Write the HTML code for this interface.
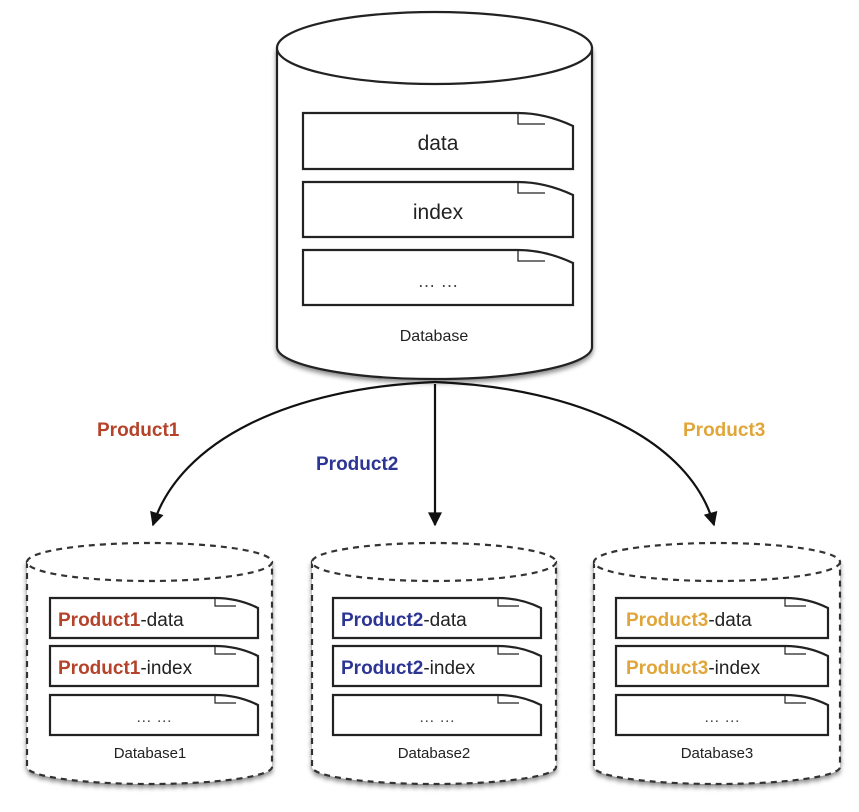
<!DOCTYPE html>
<html><head><meta charset="utf-8"><style>
html,body{margin:0;padding:0;background:#fff;}
svg{display:block;}
text{font-family:"Liberation Sans",Arial,sans-serif;}
</style></head><body>
<svg width="859" height="812" viewBox="0 0 859 812" xmlns="http://www.w3.org/2000/svg">
<defs>
<marker id="ah" viewBox="0 0 10 10" refX="9" refY="5" markerWidth="16" markerHeight="14" orient="auto" markerUnits="userSpaceOnUse">
<path d="M0,0 L10,5 L0,10 Z" fill="#111"/></marker>
<filter id="sh" x="-10%" y="-10%" width="120%" height="130%"><feDropShadow dx="0" dy="3" stdDeviation="2.5" flood-color="#000" flood-opacity="0.45"/></filter>
</defs>

<g stroke="#222" stroke-width="2.2" fill="#fff">
<path filter="url(#sh)" d="M277,48 V347 A157.5,32 0 0 0 592,347 V48 Z"/>
<ellipse cx="434.5" cy="48" rx="157.5" ry="36"/>
</g>
<g stroke="#222" stroke-width="2.2" fill="#fff">
<path d="M303,113 H518 Q545,113 573,126 V169 H303 Z"/>
<path d="M518,113 V124 H545" fill="none" stroke-width="1.3"/>
<path d="M303,182 H518 Q545,182 573,195 V237 H303 Z"/>
<path d="M518,182 V193 H545" fill="none" stroke-width="1.3"/>
<path d="M303,250 H518 Q545,250 573,263 V305 H303 Z"/>
<path d="M518,250 V261 H545" fill="none" stroke-width="1.3"/>
</g>
<text x="438" y="150" font-size="21" text-anchor="middle" fill="#222">data</text>
<text x="438" y="219" font-size="21" text-anchor="middle" fill="#222">index</text>
<text x="438" y="287" font-size="18" text-anchor="middle" fill="#444">… …</text>
<text x="434" y="341" font-size="16" text-anchor="middle" fill="#222">Database</text>

<g stroke="#111" stroke-width="2.2" fill="none" marker-end="url(#ah)">
<path d="M435,382 C290,388 180,440 153,525"/>
<path d="M435,384 V525"/>
<path d="M435,382 C580,388 690,440 714,525"/>
</g>
<text x="97" y="436" font-size="19" font-weight="bold" fill="#b5432b">Product1</text>
<text x="316" y="470" font-size="19" font-weight="bold" fill="#2c3594">Product2</text>
<text x="683" y="436" font-size="19" font-weight="bold" fill="#e0a63a">Product3</text>

<g>
<path filter="url(#sh)" d="M27,562 V767 A122.5,17 0 0 0 272,767 V562 Z" fill="#fff" stroke="#333" stroke-width="2.2" stroke-dasharray="6,5"/>
<ellipse cx="149.5" cy="562" rx="122.5" ry="19" fill="#fff" stroke="#333" stroke-width="2.2" stroke-dasharray="6,5"/>
</g>
<g>
<path filter="url(#sh)" d="M312,562 V767 A122,17 0 0 0 556,767 V562 Z" fill="#fff" stroke="#333" stroke-width="2.2" stroke-dasharray="6,5"/>
<ellipse cx="434" cy="562" rx="122" ry="19" fill="#fff" stroke="#333" stroke-width="2.2" stroke-dasharray="6,5"/>
</g>
<g>
<path filter="url(#sh)" d="M594,562 V767 A123,17 0 0 0 840,767 V562 Z" fill="#fff" stroke="#333" stroke-width="2.2" stroke-dasharray="6,5"/>
<ellipse cx="717" cy="562" rx="123" ry="19" fill="#fff" stroke="#333" stroke-width="2.2" stroke-dasharray="6,5"/>
</g>

<g stroke="#222" stroke-width="2.2" fill="#fff">
<path d="M50,598 H215 Q238,598 258,608 V638 H50 Z"/><path d="M215,598 V606 H236" fill="none" stroke-width="1.2"/>
<path d="M50,646 H215 Q238,646 258,656 V686 H50 Z"/><path d="M215,646 V654 H236" fill="none" stroke-width="1.2"/>
<path d="M50,695 H215 Q238,695 258,705 V735 H50 Z"/><path d="M215,695 V703 H236" fill="none" stroke-width="1.2"/>
<path d="M333,598 H498 Q521,598 541,608 V638 H333 Z"/><path d="M498,598 V606 H519" fill="none" stroke-width="1.2"/>
<path d="M333,646 H498 Q521,646 541,656 V686 H333 Z"/><path d="M498,646 V654 H519" fill="none" stroke-width="1.2"/>
<path d="M333,695 H498 Q521,695 541,705 V735 H333 Z"/><path d="M498,695 V703 H519" fill="none" stroke-width="1.2"/>
<path d="M616,598 H785 Q808,598 828,608 V638 H616 Z"/><path d="M785,598 V606 H806" fill="none" stroke-width="1.2"/>
<path d="M616,646 H785 Q808,646 828,656 V686 H616 Z"/><path d="M785,646 V654 H806" fill="none" stroke-width="1.2"/>
<path d="M616,695 H785 Q808,695 828,705 V735 H616 Z"/><path d="M785,695 V703 H806" fill="none" stroke-width="1.2"/>
</g>

<g font-size="19" fill="#222">
<text x="58" y="626"><tspan fill="#b5432b" font-weight="bold">Product1</tspan>-data</text>
<text x="58" y="674"><tspan fill="#b5432b" font-weight="bold">Product1</tspan>-index</text>
<text x="341" y="626"><tspan fill="#2c3594" font-weight="bold">Product2</tspan>-data</text>
<text x="341" y="674"><tspan fill="#2c3594" font-weight="bold">Product2</tspan>-index</text>
<text x="626" y="626"><tspan fill="#e0a63a" font-weight="bold">Product3</tspan>-data</text>
<text x="626" y="674"><tspan fill="#e0a63a" font-weight="bold">Product3</tspan>-index</text>
</g>
<g font-size="16" fill="#444" text-anchor="middle">
<text x="154" y="722">… …</text>
<text x="437" y="722">… …</text>
<text x="722" y="722">… …</text>
</g>
<g font-size="15" fill="#222" text-anchor="middle">
<text x="150" y="758">Database1</text>
<text x="434" y="758">Database2</text>
<text x="717" y="758">Database3</text>
</g>
</svg>
</body></html>
